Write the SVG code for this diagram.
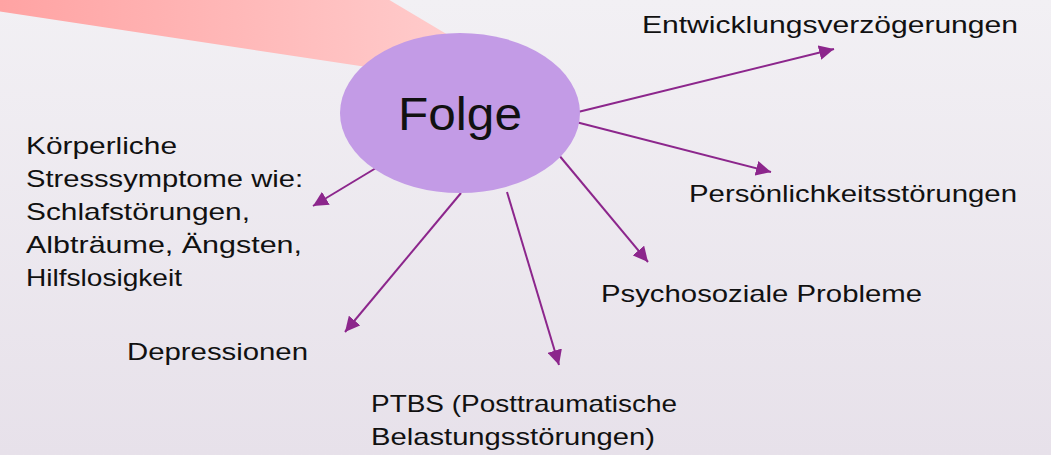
<svg xmlns="http://www.w3.org/2000/svg" width="1051" height="455" viewBox="0 0 1051 455">
<defs>
<linearGradient id="bg" x1="0" y1="0" x2="0" y2="1">
<stop offset="0" stop-color="#f2f0f4"/>
<stop offset="1" stop-color="#e7e1ea"/>
</linearGradient>
<linearGradient id="pink" x1="0" y1="0" x2="1" y2="0">
<stop offset="0" stop-color="#ffa3a3"/>
<stop offset="1" stop-color="#ffcdcd"/>
</linearGradient>
<marker id="ah" viewBox="0 0 10 10" refX="10" refY="5" markerWidth="7.5" markerHeight="7.5" markerUnits="strokeWidth" orient="auto">
<path d="M0,0 L10,5 L0,10 z" fill="#8c268c"/>
</marker>
<style>
.lbl{font-family:"Liberation Sans","DejaVu Sans",sans-serif;font-size:24px;fill:#111;}
.big{font-family:"Liberation Sans","DejaVu Sans",sans-serif;font-size:46px;fill:#111;}
.con{stroke:#8c268c;stroke-width:2;fill:none;marker-end:url(#ah);}
</style>
</defs>
<rect width="1051" height="455" fill="url(#bg)"/>
<polygon points="0,-2 386,-2 470,48 420,75 0,11.5" fill="url(#pink)"/>
<g id="connectors">
<line class="con" x1="578" y1="112" x2="834" y2="49"/>
<line class="con" x1="572" y1="121" x2="771" y2="172"/>
<line class="con" x1="558" y1="154" x2="648" y2="262"/>
<line class="con" x1="507" y1="192" x2="559" y2="365"/>
<line class="con" x1="461" y1="193" x2="345" y2="332"/>
<line class="con" x1="376" y1="168" x2="313" y2="206"/>
</g>
<g id="folge">
<ellipse cx="460" cy="113" rx="120" ry="80" fill="#c39be6"/>
<text class="big" x="398" y="130" textLength="124" lengthAdjust="spacingAndGlyphs">Folge</text>
</g>
<g id="entwicklung">
<text class="lbl" x="642" y="33" textLength="376" lengthAdjust="spacingAndGlyphs">Entwicklungsverzögerungen</text>
</g>
<g id="persoenlichkeit">
<text class="lbl" x="689" y="202" textLength="328" lengthAdjust="spacingAndGlyphs">Persönlichkeitsstörungen</text>
</g>
<g id="psychosozial">
<text class="lbl" x="601" y="302" textLength="321" lengthAdjust="spacingAndGlyphs">Psychosoziale Probleme</text>
</g>
<g id="ptbs">
<text class="lbl" x="371" y="412" textLength="306" lengthAdjust="spacingAndGlyphs">PTBS (Posttraumatische</text>
<text class="lbl" x="371" y="445" textLength="284" lengthAdjust="spacingAndGlyphs">Belastungsstörungen)</text>
</g>
<g id="depressionen">
<text class="lbl" x="127" y="360" textLength="181" lengthAdjust="spacingAndGlyphs">Depressionen</text>
</g>
<g id="koerperlich">
<text class="lbl" x="26" y="154" textLength="151" lengthAdjust="spacingAndGlyphs">Körperliche</text>
<text class="lbl" x="26" y="187" textLength="277" lengthAdjust="spacingAndGlyphs">Stresssymptome wie:</text>
<text class="lbl" x="26" y="220" textLength="224" lengthAdjust="spacingAndGlyphs">Schlafstörungen,</text>
<text class="lbl" x="26" y="253" textLength="276" lengthAdjust="spacingAndGlyphs">Albträume, Ängsten,</text>
<text class="lbl" x="26" y="286" textLength="156" lengthAdjust="spacingAndGlyphs">Hilfslosigkeit</text>
</g>
</svg>
